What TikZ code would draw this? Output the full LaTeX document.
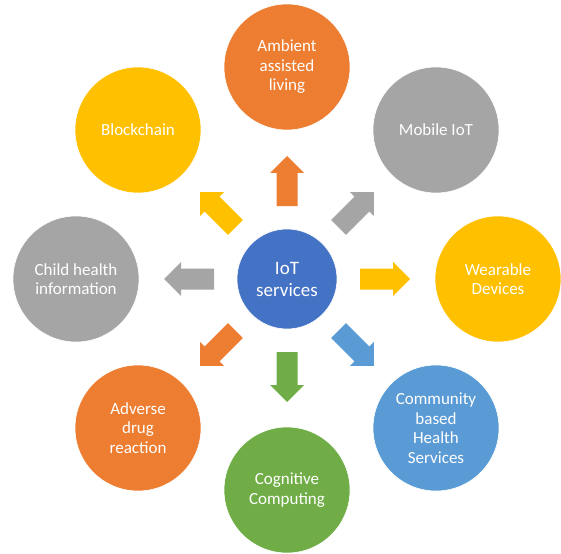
\documentclass[tikz,border=0pt]{standalone}
\usepackage{fontspec}
\setmainfont{Carlito}
\definecolor{cOrange}{HTML}{ED7D31}
\definecolor{cGray}{HTML}{A5A5A5}
\definecolor{cYellow}{HTML}{FFC000}
\definecolor{cBlue}{HTML}{4472C4}
\definecolor{cLBlue}{HTML}{5B9BD5}
\definecolor{cGreen}{HTML}{70AD47}
\begin{document}
\begin{tikzpicture}[x=1pt,y=-1pt,
  outer/.style={circle,minimum size=126pt,inner sep=0pt,draw=white,line width=0.6pt,text=white,
    align=center,font=\fontsize{17}{19.5}\selectfont},
  hub/.style={circle,minimum size=100pt,inner sep=0pt,fill=cBlue,draw=white,line width=0.6pt,text=white,
    align=center,font=\fontsize{19}{22}\selectfont}]
\useasboundingbox (0,0) rectangle (561,553);
\node[hub] (c) at (287,279) {IoT\\services};
\node[outer,fill=cOrange] (n) at (287,67) {Ambient\\assisted\\living};
\node[outer,fill=cGray] (ne) at (436,130) {Mobile IoT};
\node[outer,fill=cYellow] (e) at (498,279) {Wearable\\Devices};
\node[outer,fill=cLBlue] (se) at (436,428) {Community\\based\\Health\\Services};
\node[outer,fill=cGreen] (s) at (287,490) {Cognitive\\Computing};
\node[outer,fill=cOrange] (sw) at (138,428) {Adverse\\drug\\reaction};
\node[outer,fill=cGray] (w) at (76,279) {Child health\\information};
\node[outer,fill=cYellow] (nw) at (138,130) {Blockchain};
\foreach \ang/\col in {90/cOrange,45/cGray,0/cYellow,-45/cLBlue,-90/cGreen,-135/cOrange,180/cGray,135/cYellow}{
  \begin{scope}[shift={(c.center)},rotate=\ang]
    \fill[\col] (73,-10.5) -- (106,-10.5) -- (106,-17) -- (123,0) -- (106,17) -- (106,10.5) -- (73,10.5) -- cycle;
  \end{scope}
}
\end{tikzpicture}
\end{document}
